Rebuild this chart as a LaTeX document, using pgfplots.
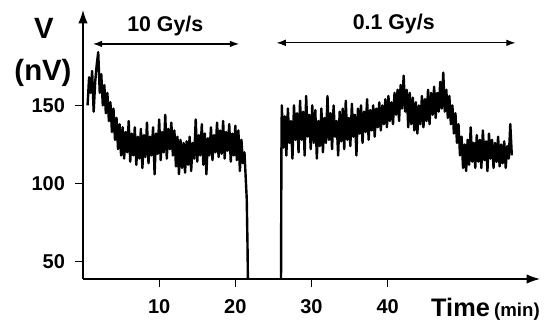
\documentclass[border=0pt]{standalone}
\usepackage{fontspec}
\setmainfont{Liberation Sans}
\usepackage{pgfplots}
\pgfplotsset{compat=1.18}
\usetikzlibrary{arrows.meta}
\pgfplotstableread{
x y
0.6 150
0.8 168
1.0 158
1.2 172
1.4 146
1.6 165
1.8 176
2.0 184
2.2 158
2.4 170
2.6 150
2.8 163
3.0 145
3.2 158
3.4 140
3.6 152
3.8 133
4.0 148
4.2 128
4.4 142
4.6 122
4.8 138
5.0 118
5.2 136
5.4 116
5.6 133
5.8 120
6.0 140
6.2 114
6.4 132
6.6 118
6.8 136
7.0 112
7.2 130
7.4 116
7.6 135
7.8 110
8.0 131
8.2 117
8.4 139
8.6 113
8.8 130
9.0 118
9.2 136
9.4 106
9.6 132
9.8 119
10.0 141
10.2 115
10.4 133
10.6 120
10.8 144
11.0 116
11.2 135
11.4 122
11.6 139
11.8 118
12.0 134
12.2 111
12.4 130
12.6 106
12.8 128
13.0 110
13.2 126
13.4 107
13.6 127
13.8 112
14.0 130
14.2 108
14.4 126
14.6 116
14.8 141
15.0 114
15.2 131
15.4 118
15.6 138
15.8 112
16.0 132
16.2 106
16.4 129
16.6 118
16.8 136
17.0 115
17.2 131
17.4 120
17.6 139
17.8 117
18.0 134
18.2 119
18.4 140
18.6 116
18.8 133
19.0 121
19.2 138
19.4 114
19.6 132
19.8 118
20.0 137
20.2 115
20.4 134
20.6 108
20.8 128
21.0 113
21.2 120
21.3 110
21.5 90
21.6 60
21.65 39
}\segA
\pgfplotstableread{
x y
26.0 39
26.05 120
26.1 150
26.3 123
26.5 143
26.7 118
26.9 148
27.1 126
27.3 140
27.5 116
27.7 150
27.9 128
28.1 145
28.3 120
28.5 153
28.7 128
28.9 146
29.1 118
29.3 156
29.5 130
29.7 144
29.9 122
30.1 150
30.3 126
30.5 147
30.7 116
30.9 140
31.1 124
31.3 148
31.5 120
31.7 142
31.9 126
32.1 156
32.3 128
32.5 145
32.7 122
32.9 150
33.1 130
33.3 140
33.5 118
33.7 146
33.9 127
34.1 148
34.3 122
34.5 153
34.7 128
34.9 142
35.1 124
35.3 151
35.5 130
35.7 144
35.9 118
36.1 148
36.3 132
36.5 150
36.7 126
36.9 146
37.1 133
37.3 154
37.5 128
37.7 147
37.9 134
38.1 150
38.3 130
38.5 148
38.7 136
38.9 152
39.1 134
39.3 150
39.5 138
39.7 154
39.9 136
40.1 156
40.3 140
40.5 152
40.7 138
40.9 158
41.1 144
41.3 160
41.5 140
41.7 163
41.9 148
42.1 169
42.3 146
42.5 160
42.7 136
42.9 158
43.1 138
43.3 155
43.5 134
43.7 152
43.9 132
44.1 150
44.3 138
44.5 156
44.7 136
44.9 154
45.1 140
45.3 160
45.5 138
45.7 158
45.9 144
46.1 162
46.3 142
46.5 158
46.7 146
46.9 165
47.1 148
47.3 171
47.5 146
47.7 160
47.9 142
48.1 156
48.3 138
48.5 150
48.7 132
48.9 145
49.1 126
49.3 138
49.5 118
49.7 130
49.9 110
50.1 125
50.3 108
50.5 128
50.7 112
50.9 136
51.1 114
51.3 126
51.5 110
51.7 131
51.9 114
52.1 128
52.3 110
52.5 134
52.7 115
52.9 127
53.1 108
53.3 132
53.5 116
53.7 128
53.9 110
54.1 126
54.3 114
54.5 130
54.7 111
54.9 125
55.1 113
55.3 127
55.5 110
55.7 124
55.9 116
56.1 138
56.3 118
}\segB
\begin{document}
\begin{tikzpicture}
\path[use as bounding box] (-62.25pt,-32.25pt) rectangle (348pt,209.25pt);
\begin{axis}[
  at={(0,0)}, anchor=south west,
  scale only axis, width=342.75pt, height=201.75pt,
  xmin=0, xmax=60, ymin=39, ymax=211,
  axis lines=left,
  axis line style={line width=0.9pt, -{Latex[length=10pt,width=7pt]}},
  xtick={10,20,30,40}, ytick={50,100,150},
  tick align=outside, major tick length=6pt,
  tick style={line width=0.9pt, black},
  /pgf/number format/assume math mode=true,
  ticklabel style={font=\bfseries\fontsize{15}{15}\selectfont},
  xticklabel style={yshift=-6pt},
  yticklabel style={xshift=-4pt},
  clip=false,
]
\addplot[black, line width=1.8pt, line join=round] table {\segA};
\addplot[black, line width=1.8pt, line join=round] table {\segB};
\draw[line width=0.9pt, {Latex[length=7pt,width=5pt]}-{Latex[length=7pt,width=5pt]}] (axis cs:1.3,189.3) -- (axis cs:20.5,189.3);
\draw[line width=0.9pt, {Latex[length=7pt,width=5pt]}-{Latex[length=7pt,width=5pt]}] (axis cs:25.4,190) -- (axis cs:56.8,190);
\node[font=\bfseries\fontsize{16}{16}\selectfont] at (axis cs:10.8,200.8) {10 Gy/s};
\node[font=\bfseries\fontsize{16}{16}\selectfont] at (axis cs:40.8,202) {0.1 Gy/s};
\end{axis}
\node[font=\bfseries\fontsize{22}{22}\selectfont] at (-29.25pt,188.25pt) {V};
\node[font=\bfseries\fontsize{22}{22}\selectfont] at (-30pt,154.5pt) {(nV)};
\node[anchor=base east, inner sep=0pt] at (342.75pt,-28pt) {\bfseries\fontsize{19}{19}\selectfont Time\,\fontsize{14}{14}\selectfont(min)};
\end{tikzpicture}
\end{document}
